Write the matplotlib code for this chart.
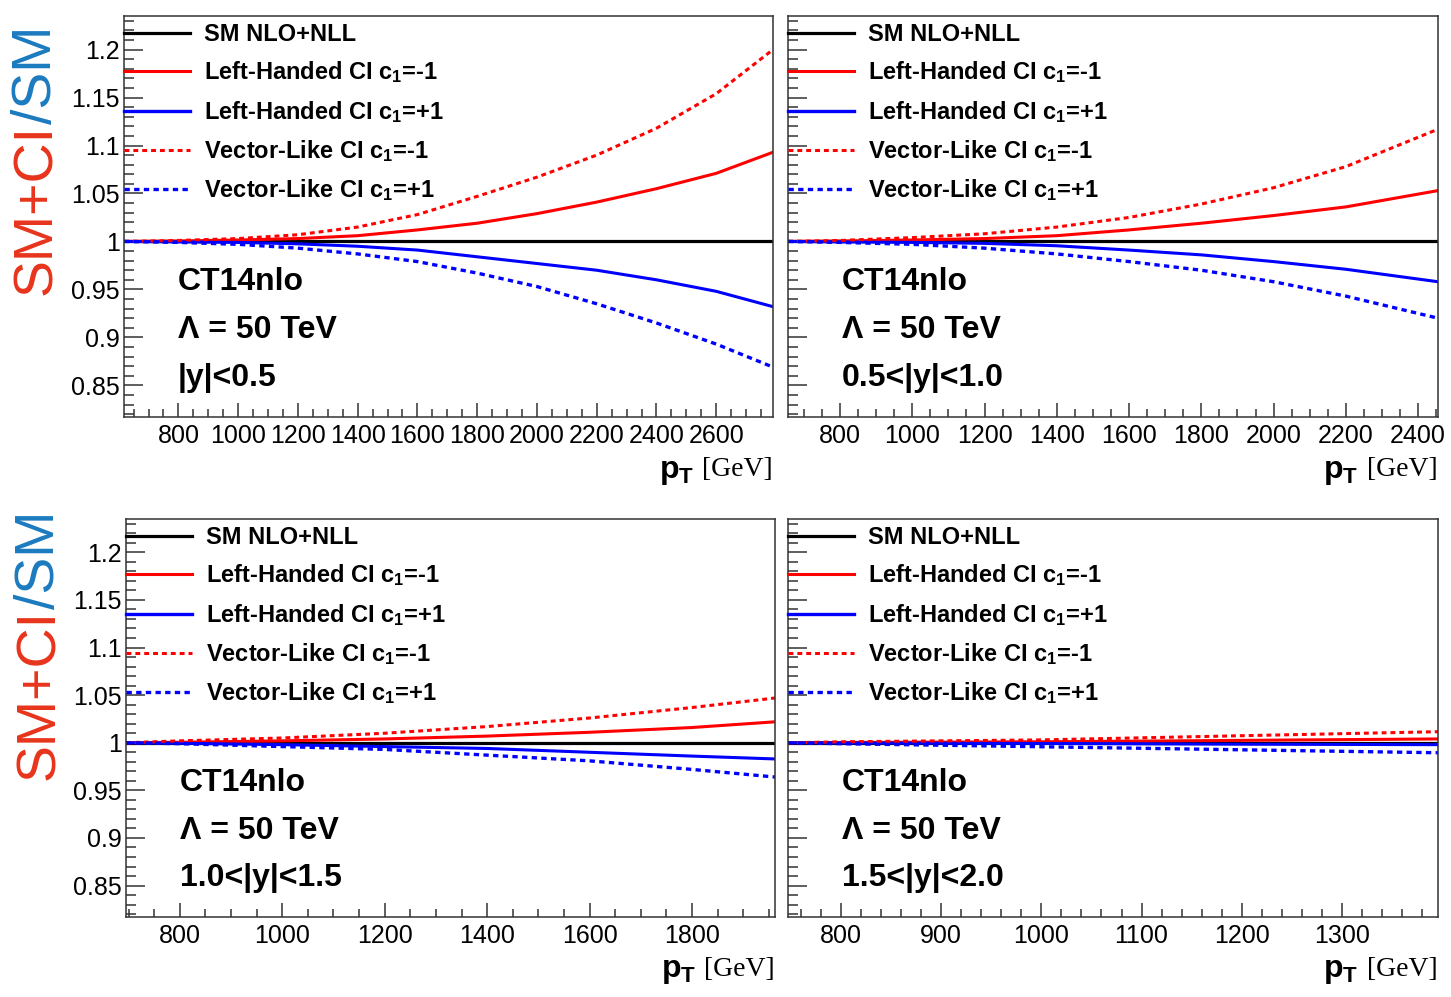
import matplotlib
matplotlib.use("Agg")
import matplotlib.pyplot as plt
from matplotlib.lines import Line2D
from matplotlib.ticker import MultipleLocator, FuncFormatter

plt.rcParams["font.family"] = ["Liberation Sans", "DejaVu Sans"]
plt.rcParams["mathtext.fontset"] = "custom"
plt.rcParams["mathtext.rm"] = "Liberation Sans:bold"
plt.rcParams["mathtext.it"] = "Liberation Sans:bold"
plt.rcParams["mathtext.bf"] = "Liberation Sans:bold"

W, H = 1451, 997

# |y| < 0.5
pt_y0 = [618, 800, 1000, 1200, 1400, 1600, 1800, 2000, 2200, 2400, 2600, 2790]
lh_m_y0 = [1.000, 1.0005, 1.0015, 1.003, 1.006, 1.012, 1.019, 1.029, 1.041, 1.055, 1.071, 1.093]
lh_p_y0 = [1.000, 0.9995, 0.999, 0.9975, 0.995, 0.991, 0.984, 0.977, 0.970, 0.960, 0.948, 0.932]
vl_m_y0 = [1.000, 1.001, 1.003, 1.007, 1.015, 1.028, 1.047, 1.067, 1.090, 1.118, 1.154, 1.200]
vl_p_y0 = [1.000, 0.999, 0.997, 0.993, 0.987, 0.979, 0.967, 0.953, 0.935, 0.915, 0.893, 0.869]

# 0.5 < |y| < 1.0
pt_y1 = [656, 800, 1000, 1200, 1400, 1600, 1800, 2000, 2200, 2455]
lh_m_y1 = [1.000, 1.0005, 1.0015, 1.003, 1.006, 1.012, 1.019, 1.027, 1.036, 1.053]
lh_p_y1 = [1.000, 0.9995, 0.999, 0.998, 0.9955, 0.991, 0.986, 0.979, 0.971, 0.958]
vl_m_y1 = [1.000, 1.001, 1.004, 1.008, 1.015, 1.025, 1.039, 1.056, 1.078, 1.117]
vl_p_y1 = [1.000, 0.999, 0.997, 0.993, 0.987, 0.979, 0.970, 0.958, 0.943, 0.920]

# 1.0 < |y| < 1.5
pt_y2 = [695, 800, 1000, 1200, 1400, 1600, 1800, 1962]
lh_m_y2 = [1.000, 1.0005, 1.002, 1.004, 1.007, 1.011, 1.016, 1.022]
lh_p_y2 = [1.000, 0.9995, 0.998, 0.996, 0.994, 0.990, 0.986, 0.983]
vl_m_y2 = [1.000, 1.002, 1.005, 1.010, 1.017, 1.026, 1.037, 1.047]
vl_p_y2 = [1.000, 0.999, 0.996, 0.993, 0.987, 0.981, 0.972, 0.964]

# 1.5 < |y| < 2.0
pt_y3 = [747, 800, 1000, 1200, 1396]
lh_m_y3 = [1.000, 1.0003, 1.001, 1.0025, 1.004]
lh_p_y3 = [1.000, 0.9998, 0.9993, 0.9985, 0.998]
vl_m_y3 = [1.000, 1.001, 1.003, 1.0074, 1.0116]
vl_p_y3 = [1.000, 0.999, 0.9958, 0.9926, 0.9895]

rapidity_labels = ["|y|<0.5", "0.5<|y|<1.0", "1.0<|y|<1.5", "1.5<|y|<2.0"]
legend_labels = [
    "SM NLO+NLL",
    "Left-Handed CI c$_1$=-1",
    "Left-Handed CI c$_1$=+1",
    "Vector-Like CI c$_1$=-1",
    "Vector-Like CI c$_1$=+1",
]
xlims = [(618, 2790), (656, 2455), (695, 1962), (747, 1396)]
x_major = [200, 200, 200, 100]
x_minor = [50, 50, 50, 20]

DOT = (0, (1.6, 1.3))


def px_box(left, top, right, bottom):
    """Pixel box of the 1451x997 canvas -> figure fraction rect."""
    return [left / W, 1 - bottom / H, (right - left) / W, (bottom - top) / H]


def draw_panel(ax, pt, lh_m, lh_p, vl_m, vl_p, xlim, major, minor, rap, ylabels):
    """Draws one CI/SM ratio panel with legend and labels."""
    sm = [1.0] * len(pt)
    ax.plot(pt, sm, color="black", lw=2.3)
    ax.plot(pt, lh_m, color="red", lw=2.2)
    ax.plot(pt, lh_p, color="blue", lw=2.2)
    ax.plot(pt, vl_m, color="red", lw=2.2, ls=DOT)
    ax.plot(pt, vl_p, color="blue", lw=2.4, ls=DOT)

    ax.set_xlim(*xlim)
    ax.set_ylim(0.817, 1.235)
    ax.xaxis.set_major_locator(MultipleLocator(major))
    ax.xaxis.set_minor_locator(MultipleLocator(minor))
    ax.yaxis.set_major_locator(MultipleLocator(0.05))
    ax.yaxis.set_minor_locator(MultipleLocator(0.01))
    ax.yaxis.set_major_formatter(FuncFormatter(lambda v, _: f"{v:g}"))
    ax.xaxis.set_major_formatter(FuncFormatter(lambda v, _: f"{v:.0f}"))
    ax.tick_params(which="both", direction="in", top=False, right=False,
                   width=1.1, color="#333333", labelsize=18, labelleft=ylabels)
    ax.tick_params(axis="y", which="major", length=14, pad=3)
    ax.tick_params(axis="y", which="minor", length=7)
    ax.tick_params(axis="x", which="major", length=10, pad=5)
    ax.tick_params(axis="x", which="minor", length=6)
    for sp in ax.spines.values():
        sp.set_linewidth(1.1)
        sp.set_color("#333333")

    handles = [
        Line2D([], [], color="black", lw=2.3),
        Line2D([], [], color="red", lw=2.2),
        Line2D([], [], color="blue", lw=2.4),
        Line2D([], [], color="red", lw=2.2, ls=DOT),
        Line2D([], [], color="blue", lw=2.4, ls=DOT),
    ]
    ax.legend(handles, legend_labels, loc="upper left",
              bbox_to_anchor=(0, 1 - 7 / 400), frameon=False, borderpad=0,
              borderaxespad=0, handlelength=2.8, handletextpad=0.6,
              labelspacing=0.57, prop={"weight": "bold", "size": 17})

    for text, y in zip(["CT14nlo", "Λ = 50 TeV", rap], [0.317, 0.197, 0.077]):
        ax.text(0.083, y, text, transform=ax.transAxes, fontsize=23,
                fontweight="bold", va="baseline", ha="left")

    ax.text(1.0, -0.147, "[GeV]", transform=ax.transAxes, ha="right",
            va="baseline", fontsize=20, family="Liberation Serif")
    ax.text(0.878, -0.152, r"p$_{\mathrm{T}}$", transform=ax.transAxes,
            ha="right", va="baseline", fontsize=23, fontweight="bold")


def ratio_label(fig, x, y_bottom):
    """Two-coloured rotated y title, built bottom-up."""
    t1 = fig.text(x / W, 1 - y_bottom / H, "SM+CI", rotation=90, ha="center",
                  va="bottom", fontsize=40, color="#E8341C")
    fig.canvas.draw()
    bb = t1.get_window_extent()
    fig.text(x / W, bb.y1 / fig.bbox.height, "/SM", rotation=90, ha="center",
             va="bottom", fontsize=40, color="#1B7BBF")


fig = plt.figure(figsize=(W / 100, H / 100), dpi=100)
boxes = [(124, 16, 773, 417), (788, 16, 1438, 417),
         (126, 519, 775, 917), (788, 519, 1438, 917)]
series = [
    (pt_y0, lh_m_y0, lh_p_y0, vl_m_y0, vl_p_y0),
    (pt_y1, lh_m_y1, lh_p_y1, vl_m_y1, vl_p_y1),
    (pt_y2, lh_m_y2, lh_p_y2, vl_m_y2, vl_p_y2),
    (pt_y3, lh_m_y3, lh_p_y3, vl_m_y3, vl_p_y3),
]
for i, box in enumerate(boxes):
    ax = fig.add_axes(px_box(*box))
    draw_panel(ax, *series[i], xlims[i], x_major[i], x_minor[i],
               rapidity_labels[i], ylabels=(i % 2 == 0))

ratio_label(fig, 37, 295)
ratio_label(fig, 40, 780)

fig.savefig("out.png", dpi=100)
